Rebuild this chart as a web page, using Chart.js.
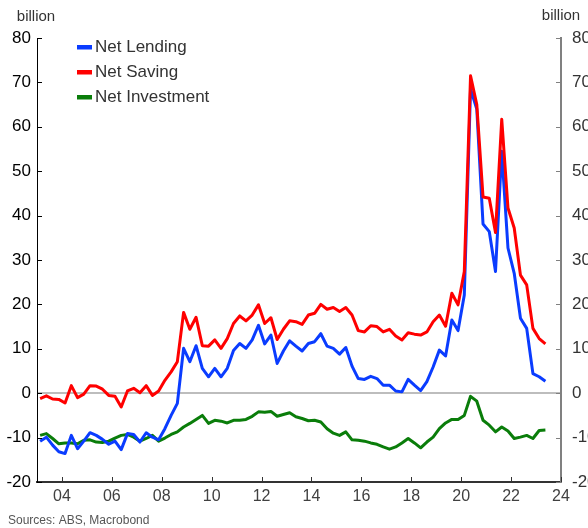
<!DOCTYPE html>
<html>
<head>
<meta charset="utf-8">
<script src="https://cdn.jsdelivr.net/npm/chart.js@4.4.0/dist/chart.umd.min.js"></script>
<style>
  html, body { margin: 0; padding: 0; background: #fff; }
  #wrap { width: 588px; height: 528px; }
</style>
</head>
<body>
<div id="wrap"><canvas id="chart" width="588" height="528"></canvas></div>
<script>
// Quarterly data, 2003 Q1 to 2023 Q2, A$ billion
const startYear = 2003;

const netLending = [
    -10.8, -9.9, -11.7, -13.2,
    -13.6, -9.5, -12.5, -10.8,
    -8.9, -9.5, -10.4, -11.5,
    -10.8, -12.7, -9.1, -9.3,
    -11.0, -8.9, -9.9, -10.5,
    -8.0, -5.0, -2.3, 10.1,
    7.1, 10.7, 5.6, 3.7,
    5.6, 3.7, 5.6, 9.6,
    11.2, 10.1, 12.0, 15.3,
    11.1, 13.1, 6.7, 9.5,
    11.8, 10.6, 9.5, 11.2,
    11.6, 13.4, 10.6, 10.1,
    8.8, 10.3, 6.1, 3.3,
    3.1, 3.8, 3.3, 1.8,
    1.8, 0.5, 0.3, 3.1,
    1.8, 0.6, 2.6, 5.9,
    9.7, 8.4, 16.5, 14.1,
    22.1, 68.5, 64.0, 38.1,
    36.4, 27.4, 54.5, 32.7,
    27.0, 16.9, 14.6, 4.4,
    3.7, 2.7
];

const netSaving = [
    -1.2, -0.6, -1.3, -1.4,
    -2.2, 1.7, -1.0, -0.2,
    1.7, 1.6, 0.9, -0.5,
    -0.7, -3.1, 0.5, 1.1,
    0.1, 1.7, -0.5, 0.5,
    2.9, 4.8, 7.1, 18.2,
    14.4, 17.1, 10.7, 10.6,
    12.0, 10.1, 12.3, 15.7,
    17.4, 16.3, 17.6, 19.9,
    15.7, 17.0, 12.1, 14.4,
    16.3, 16.1, 15.5, 17.6,
    18.0, 20.0, 18.9, 19.3,
    18.4, 19.3, 17.6, 14.1,
    13.8, 15.2, 15.0, 13.8,
    14.4, 12.9, 12.0, 13.6,
    13.3, 13.1, 13.8, 16.1,
    17.6, 15.1, 22.5, 19.9,
    27.4, 71.5, 65.0, 44.2,
    43.9, 36.2, 61.7, 41.7,
    37.2, 26.6, 24.4, 14.6,
    12.3, 11.1
];

const netInvestment = [
    -9.5, -9.1, -10.2, -11.4,
    -11.2, -11.2, -11.4, -10.6,
    -10.5, -11.0, -11.1, -10.8,
    -10.1, -9.5, -9.3, -9.9,
    -10.8, -10.2, -9.5, -10.8,
    -10.1, -9.3, -8.7, -7.6,
    -6.8, -5.9, -5.0, -6.8,
    -6.1, -6.3, -6.7, -6.1,
    -6.1, -5.9, -5.2, -4.2,
    -4.3, -4.1, -5.2, -4.8,
    -4.4, -5.3, -5.7, -6.2,
    -6.1, -6.5, -8.0, -9.0,
    -9.5, -8.7, -10.5, -10.6,
    -10.8, -11.2, -11.5, -12.1,
    -12.6, -12.1, -11.2, -10.2,
    -11.2, -12.3, -11.0, -9.9,
    -8.0, -6.7, -5.9, -5.9,
    -5.0, -0.7, -1.8, -6.1,
    -7.2, -8.7, -7.6, -8.5,
    -10.2, -9.9, -9.5, -10.2,
    -8.4, -8.3
];

const yearTicks = [2004, 2006, 2008, 2010, 2012, 2014, 2016, 2018, 2020, 2022, 2024];
const valueTicks = [-20, -10, 0, 10, 20, 30, 40, 50, 60, 70, 80];

const quarters = netLending.map((_, i) => (startYear + Math.floor(i / 4)) + 'Q' + (i % 4 + 1));

// place each quarter at its middle on the time axis
function quarterX(label) {
    const year = parseInt(label.slice(0, 4), 10);
    const q = parseInt(label.slice(5), 10);
    return year + (q - 1) * 0.25 + 0.125;
}

function toPoints(values) {
    return values.map((v, i) => ({x: quarterX(quarters[i]), y: v}));
}

const FONT = "'Liberation Sans', Arial, sans-serif";

const series = [
    {label: 'Net Lending', color: '#0a3cff'},
    {label: 'Net Saving', color: '#ff0000'},
    {label: 'Net Investment', color: '#0a7d0a'}
];

// inward tick marks, legend and the small texts
const decorations = {
    id: 'decorations',
    afterDraw(chart) {
        const ctx = chart.ctx;
        const area = chart.chartArea;
        const y = chart.scales.y;
        const x = chart.scales.x;
        ctx.save();

        ctx.lineWidth = 1;
        valueTicks.forEach(v => {
            const py = Math.round(y.getPixelForValue(v)) + 0.5;
            ctx.strokeStyle = '#000';
            ctx.beginPath();
            ctx.moveTo(area.left, py);
            ctx.lineTo(area.left + 5, py);
            ctx.stroke();
            ctx.strokeStyle = '#808080';
            ctx.beginPath();
            ctx.moveTo(area.right - 5, py);
            ctx.lineTo(area.right, py);
            ctx.stroke();
        });
        ctx.strokeStyle = '#333';
        yearTicks.forEach(t => {
            const px = Math.round(x.getPixelForValue(t)) + 0.5;
            ctx.beginPath();
            ctx.moveTo(px, area.bottom);
            ctx.lineTo(px, area.bottom - 5);
            ctx.stroke();
        });

        // legend
        ctx.font = '17px ' + FONT;
        ctx.textBaseline = 'middle';
        ctx.textAlign = 'left';
        series.forEach((s, i) => {
            const ly = 47 + i * 25;
            ctx.fillStyle = s.color;
            ctx.fillRect(77, ly - 2, 15, 4.5);
            ctx.fillStyle = '#333';
            ctx.fillText(s.label, 95, ly);
        });

        ctx.fillStyle = '#333';
        ctx.font = '15px ' + FONT;
        ctx.textAlign = 'center';
        ctx.fillText('billion', 36, 17);
        ctx.fillText('billion', 561, 16);

        ctx.font = '12px ' + FONT;
        ctx.textAlign = 'left';
        ctx.fillStyle = '#555';
        ctx.fillText('Sources: ABS, Macrobond', 8, 521);
        ctx.restore();
    }
};

new Chart(document.getElementById('chart').getContext('2d'), {
    type: 'line',
    data: {
        datasets: [
            {label: series[0].label, data: toPoints(netLending), borderColor: series[0].color, order: 2},
            {label: series[1].label, data: toPoints(netSaving), borderColor: series[1].color, order: 1},
            {label: series[2].label, data: toPoints(netInvestment), borderColor: series[2].color, order: 3}
        ]
    },
    options: {
        responsive: false,
        animation: false,
        layout: {padding: {top: 38, left: 0, right: 0, bottom: 0}},
        elements: {
            line: {borderWidth: 3, tension: 0, borderJoinStyle: 'round'},
            point: {radius: 0}
        },
        plugins: {legend: {display: false}, tooltip: {enabled: false}},
        scales: {
            x: {
                type: 'linear',
                min: 2003,
                max: 2024,
                afterBuildTicks: s => { s.ticks = yearTicks.map(v => ({value: v})); },
                afterFit: s => { s.height = 46; },
                grid: {display: false, drawTicks: false},
                border: {color: '#333', width: 2},
                ticks: {
                    padding: 5,
                    color: '#404040',
                    font: {family: FONT, size: 16},
                    maxRotation: 0,
                    callback: v => String(v % 100).padStart(2, '0')
                }
            },
            y: {
                position: 'left',
                min: -20,
                max: 80,
                afterBuildTicks: s => { s.ticks = valueTicks.map(v => ({value: v})); },
                afterFit: s => { s.width = 37; },
                grid: {
                    drawTicks: false,
                    lineWidth: 2,
                    color: c => (c.tick && c.tick.value === 0) ? '#bdbdbd' : 'rgba(0,0,0,0)'
                },
                border: {color: '#000', width: 1},
                ticks: {padding: 6, color: '#000', font: {family: FONT, size: 17}}
            },
            y2: {
                position: 'right',
                min: -20,
                max: 80,
                afterBuildTicks: s => { s.ticks = valueTicks.map(v => ({value: v})); },
                afterFit: s => { s.width = 27; },
                grid: {display: false, drawTicks: false},
                border: {color: '#808080', width: 2},
                ticks: {padding: 11, color: '#333', font: {family: FONT, size: 17}}
            }
        }
    },
    plugins: [decorations]
});
</script>
</body>
</html>
